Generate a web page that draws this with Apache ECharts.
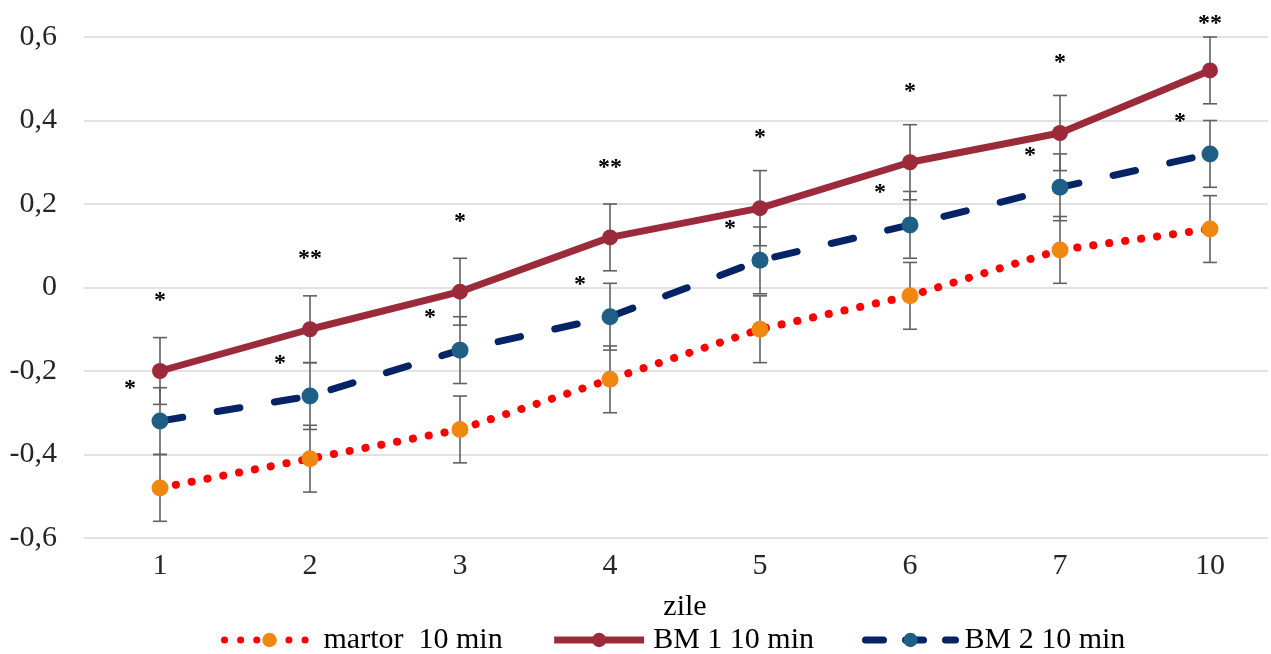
<!DOCTYPE html>
<html>
<head>
<meta charset="utf-8">
<script src="https://cdn.jsdelivr.net/npm/echarts@6/dist/echarts.min.js"></script>
<style>
  html, body { margin: 0; padding: 0; background: #fff; }
  #chart { width: 1271px; height: 654px; }
</style>
</head>
<body>
<div id="chart"></div>
<script>
// days
const days = ['1', '2', '3', '4', '5', '6', '7', '10'];

// series values
const martor = [-0.48, -0.41, -0.34, -0.22, -0.10, -0.02, 0.09, 0.14];
const bm1 = [-0.20, -0.10, -0.01, 0.12, 0.19, 0.30, 0.37, 0.52];
const bm2 = [-0.32, -0.26, -0.15, -0.07, 0.065, 0.15, 0.24, 0.32];

// error bar half-widths
const martorErr = [0.08, 0.08, 0.08, 0.08, 0.08, 0.08, 0.08, 0.08];
const bm1Err = [0.08, 0.08, 0.08, 0.08, 0.09, 0.09, 0.09, 0.08];
const bm2Err = [0.08, 0.08, 0.08, 0.08, 0.08, 0.08, 0.08, 0.08];

// significance marks
const bm1Stars = ['*', '**', '*', '**', '*', '*', '*', '**'];
const bm2Stars = ['*', '*', '*', '*', '*', '*', '*', '*'];

const yTicks = { min: -0.6, max: 0.6, step: 0.2 };

const font = '"Liberation Serif", "Times New Roman", serif';
const names = ['martor  10 min', 'BM 1 10 min', 'BM 2 10 min'];

const chart = echarts.init(document.getElementById('chart'));

// error bars plus the star marks; starPos tells where the marks go
function errorSeries(values, errs, stars, starPos) {
  return {
    type: 'custom',
    silent: true,
    xAxisIndex: 1,
    yAxisIndex: 1,
    z: 1,
    data: values.map((v, i) => [i, v, errs[i]]),
    renderItem: (params, api) => {
      const i = params.dataIndex;
      const x = api.value(0);
      const v = api.value(1);
      const e = api.value(2);
      const pt = api.coord([x, v]);
      const top = api.coord([x, v + e]);
      const bot = api.coord([x, v - e]);
      const cap = 7;
      const style = { stroke: '#616161', lineWidth: 1.6 };
      const children = [
        { type: 'line', shape: { x1: top[0], y1: top[1], x2: bot[0], y2: bot[1] }, style },
        { type: 'line', shape: { x1: top[0] - cap, y1: top[1], x2: top[0] + cap, y2: top[1] }, style },
        { type: 'line', shape: { x1: bot[0] - cap, y1: bot[1], x2: bot[0] + cap, y2: bot[1] }, style }
      ];
      if (stars) {
        const p = starPos(pt);
        children.push({
          type: 'text',
          z2: 10,
          x: p[0],
          y: p[1],
          style: {
            text: stars[i],
            fontFamily: font,
            fontSize: 24,
            fontWeight: 'bold',
            fill: '#000',
            align: 'center',
            verticalAlign: 'middle'
          }
        });
      }
      return { type: 'group', children };
    }
  };
}

const yLabel = v => Math.abs(v) < 1e-9 ? '0' : v.toFixed(1).replace('.', ',');

const option = {
  animation: false,
  grid: [
    { left: 84, top: 37, right: 3, height: 501 },
    { left: 160, top: 37, width: 1050, height: 501 }
  ],
  legend: {
    left: 216,
    top: 620,
    itemWidth: 90,
    itemHeight: 18,
    itemGap: 48,
    textStyle: { fontFamily: font, fontSize: 30, color: '#000', padding: [0, 0, 0, 4] },
    data: [
      { name: names[0], lineStyle: { width: 7, type: [0.1, 16], cap: 'round' } },
      { name: names[1], lineStyle: { width: 7 } },
      { name: names[2], lineStyle: { width: 7, type: [18, 22], cap: 'round' } }
    ]
  },
  xAxis: [
    { type: 'category', gridIndex: 0, data: days, show: false },
    {
      type: 'category',
      gridIndex: 1,
      data: days,
      boundaryGap: false,
      name: 'zile',
      nameLocation: 'middle',
      nameGap: 54,
      nameTextStyle: { fontFamily: font, fontSize: 30, color: '#000' },
      axisLine: { show: false },
      axisTick: { show: false },
      axisLabel: { fontFamily: font, fontSize: 30, color: '#262626', margin: 13 }
    }
  ],
  yAxis: [
    {
      type: 'value',
      gridIndex: 0,
      min: yTicks.min,
      max: yTicks.max,
      interval: yTicks.step,
      axisLine: { show: false },
      axisTick: { show: false },
      splitLine: { lineStyle: { color: '#d9d9d9', width: 1.5 } },
      axisLabel: { fontFamily: font, fontSize: 30, color: '#262626', margin: 27, formatter: yLabel }
    },
    {
      type: 'value',
      gridIndex: 1,
      min: yTicks.min,
      max: yTicks.max,
      interval: yTicks.step,
      show: false,
      splitLine: { show: false }
    }
  ],
  series: [
    errorSeries(martor, martorErr, null, null),
    errorSeries(bm1, bm1Err, bm1Stars, pt => [pt[0], Math.max(pt[1] - 70, 24)]),
    errorSeries(bm2, bm2Err, bm2Stars, pt => [pt[0] - 30, pt[1] - 32]),
    {
      name: names[0],
      type: 'line',
      xAxisIndex: 1,
      yAxisIndex: 1,
      z: 3,
      data: martor,
      symbol: 'circle',
      symbolSize: 17,
      itemStyle: { color: '#F0870F' },
      lineStyle: { color: '#FF0000', width: 8, type: [0.1, 16], cap: 'round' }
    },
    {
      name: names[1],
      type: 'line',
      xAxisIndex: 1,
      yAxisIndex: 1,
      z: 4,
      data: bm1,
      symbol: 'circle',
      symbolSize: 16,
      itemStyle: { color: '#9B2B3A' },
      lineStyle: { color: '#9B2B3A', width: 7 }
    },
    {
      name: names[2],
      type: 'line',
      xAxisIndex: 1,
      yAxisIndex: 1,
      z: 4,
      data: bm2,
      symbol: 'circle',
      symbolSize: 17,
      itemStyle: { color: '#1F5F86' },
      lineStyle: { color: '#062465', width: 7, type: [23, 35], cap: 'round' }
    }
  ]
};

chart.setOption(option);
window.addEventListener('resize', () => chart.resize());
</script>
</body>
</html>
